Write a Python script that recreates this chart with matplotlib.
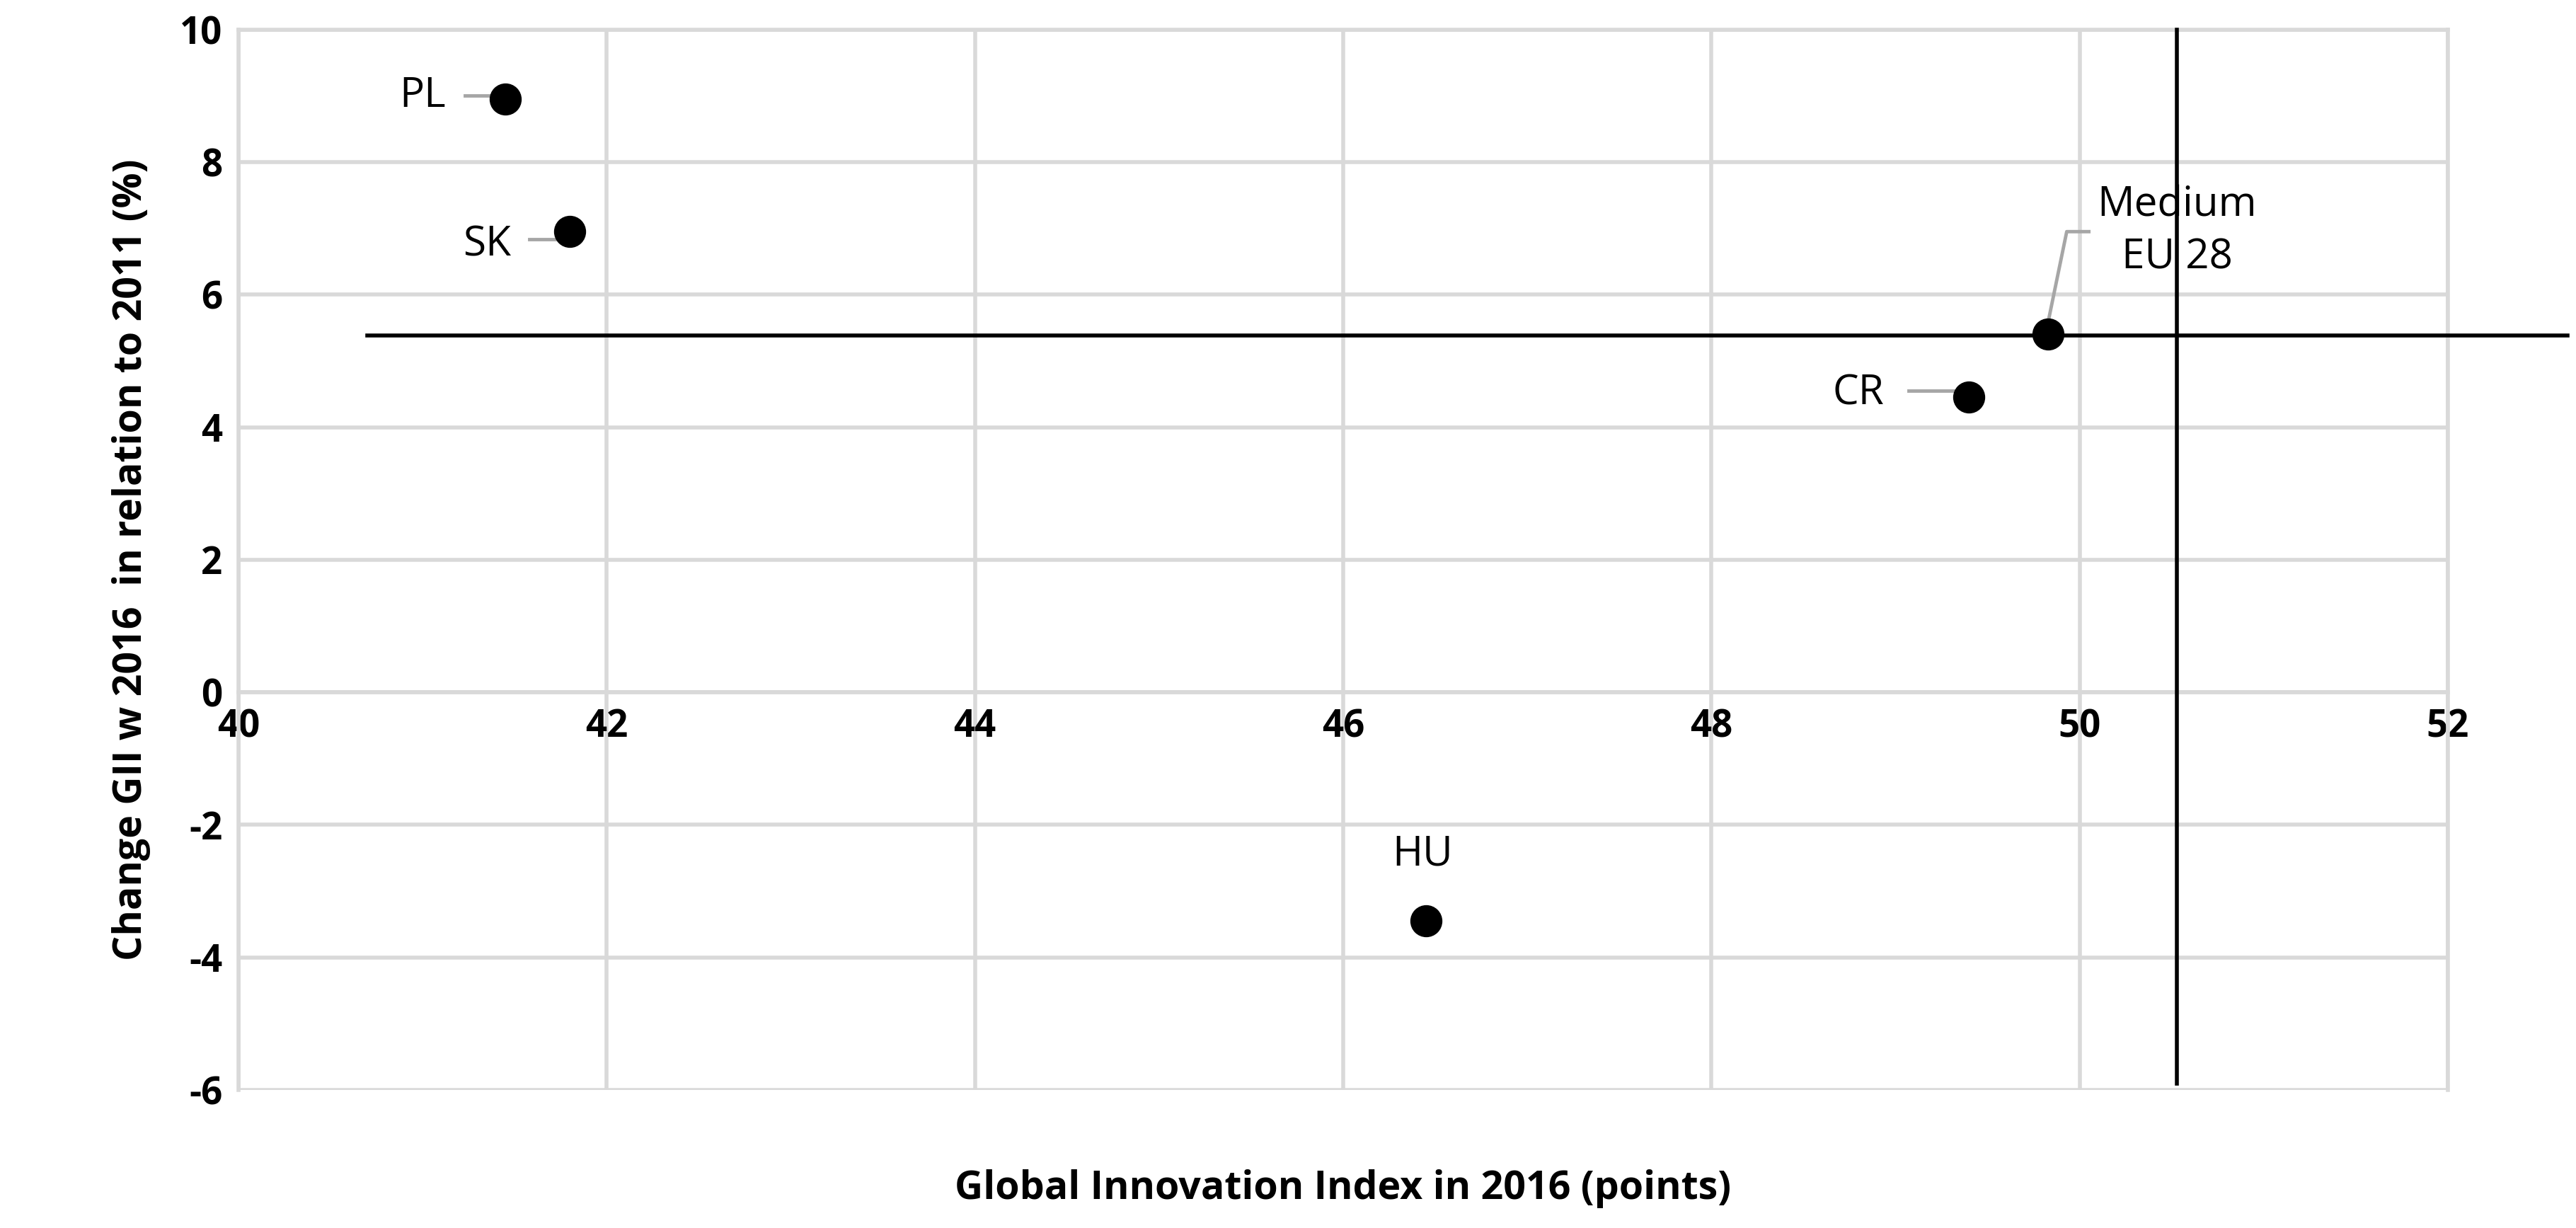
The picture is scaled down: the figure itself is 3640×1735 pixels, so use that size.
import matplotlib
matplotlib.use("Agg")
import matplotlib.pyplot as plt

names = ["PL", "SK", "CR", "HU", "Medium\nEU 28"]
gii = [41.45, 41.8, 49.4, 46.45, 49.83]
change = [8.95, 6.95, 4.45, -3.45, 5.4]
avg_x = 50.53
avg_y = 5.38

plt.rcParams['font.family'] = ['Open Sans', 'DejaVu Sans']
plt.rcParams['axes.unicode_minus'] = False
fig = plt.figure(figsize=(36.41, 17.35), dpi=100)
ax = fig.add_axes([0.0925, 0.1124, 0.8575, 0.8636])
ax.set_xlim(40, 52)
ax.set_ylim(-6, 10)
ax.set_xticks(range(40, 53, 2))
ax.set_yticks(range(-6, 11, 2))
ax.grid(True, color="#d9d9d9", lw=4)
ax.set_axisbelow(True)
for s in ["top", "right", "left"]:
    ax.spines[s].set_color("#d9d9d9"); ax.spines[s].set_linewidth(4)
ax.spines['bottom'].set_position(('data', 0))
ax.spines['bottom'].set_color("#d9d9d9"); ax.spines['bottom'].set_linewidth(4)
ax.tick_params(axis='both', length=0, labelsize=38, pad=16)
for t in ax.get_xticklabels() + ax.get_yticklabels():
    t.set_fontweight('bold')

ax.plot([avg_x, avg_x], [-5.9, 10], color='black', lw=4, clip_on=False, zorder=3)
ax.plot([40.7, 52.65], [avg_y, avg_y], color='black', lw=4, clip_on=False, zorder=3)
ax.scatter(gii, change, s=1000, color='black', zorder=4)

gray = "#a6a6a6"
fs = 42
ax.text(41.0, change[0] + 0.05, names[0], fontsize=fs, ha='center', va='center')
ax.plot([41.23, 41.38], [change[0] + 0.05, change[0] + 0.05], color=gray, lw=3.5)
ax.text(41.35, change[1] - 0.2, names[1], fontsize=fs, ha='center', va='center')
ax.plot([41.58, 41.72], [change[1] - 0.12, change[1] - 0.12], color=gray, lw=3.5)
ax.text(48.8, change[2] + 0.05, names[2], fontsize=fs, ha='center', va='center')
ax.plot([49.07, 49.32], [change[2] + 0.1, change[2] + 0.1], color=gray, lw=3.5)
ax.text(46.43, -2.45, names[3], fontsize=fs, ha='center', va='center')
ax.plot([49.83, 49.93, 50.05], [5.6, 6.95, 6.95], color=gray, lw=3.5)
ax.text(50.53, 6.95, names[4], fontsize=fs, ha='center', va='center', linespacing=1.35)

ax.set_xlabel("Global Innovation Index in 2016 (points)", fontsize=40, fontweight='bold')
ax.xaxis.set_label_coords(0.5, -0.075)
ax.set_ylabel("Change GII w 2016  in relation to 2011 (%)", fontsize=40, fontweight='bold', labelpad=30)
fig.savefig("out.png", dpi=100)
